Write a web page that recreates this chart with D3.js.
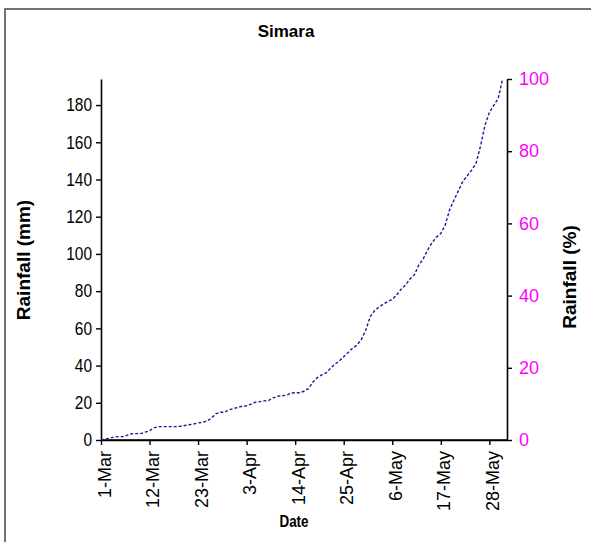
<!DOCTYPE html>
<html>
<head>
<meta charset="utf-8">
<script src="https://cdn.jsdelivr.net/npm/d3@7"></script>
<style>
  html, body { margin: 0; padding: 0; background: #fff; }
  svg { display: block; font-family: "Liberation Sans", Arial, sans-serif; }
</style>
</head>
<body>
<svg id="chart" width="591" height="542"></svg>
<script>
// ---- data ----
const title = "Simara";
const startDate = "2000-03-01";
// cumulative daily rainfall (mm), 1-Mar .. 31-May
const cumulativeRain = [
  0, 0.5, 1.0, 1.6, 1.8, 1.8, 2.6, 3.4, 3.4, 3.4,
  4.2, 5.0, 6.5, 7.2, 7.2, 7.2, 7.2, 7.2, 7.4, 7.8,
  8.2, 8.6, 9.2, 9.5, 10.2, 11.7, 14.0, 14.9, 14.9, 16.2,
  16.9, 17.5, 18.2, 18.4, 19.3, 20.3, 20.6, 21.0, 21.3, 22.6,
  23.5, 23.8, 24.0, 25.2, 25.4, 25.4, 26.2, 27.6, 31.0, 33.5,
  35.0, 36.0, 38.5, 40.7, 42.5, 44.8, 47.0, 49.3, 51.0, 54.0,
  59.0, 66.3, 69.5, 71.5, 73.0, 74.5, 75.5, 78.0, 81.0, 83.3,
  86.5, 88.7, 94.0, 97.3, 102.0, 106.0, 109.0, 111.0, 115.5, 123.7,
  129.0, 134.0, 139.0, 142.0, 145.0, 148.8, 158.0, 169.0, 176.0, 179.8,
  183.5, 194.0
];
const totalRain = 194;
const leftTicks = [0, 20, 40, 60, 80, 100, 120, 140, 160, 180];
const rightTicks = [0, 20, 40, 60, 80, 100];
const xTickLabels = ["1-Mar", "12-Mar", "23-Mar", "3-Apr", "14-Apr", "25-Apr", "6-May", "17-May", "28-May"];
const xAxisEnd = "2000-06-01";

// ---- layout ----
const svg = d3.select("#chart");
const mLeft = 101, mRight = 507, mTop = 79, mBottom = 440;

const parse = d3.timeParse("%Y-%m-%d");
const d0 = parse(startDate);
const dates = cumulativeRain.map((_, i) => d3.timeDay.offset(d0, i));
const parseLabel = d3.timeParse("%Y-%d-%b");
const xTickDates = xTickLabels.map(s => parseLabel("2000-" + s));

const x = d3.scaleTime().domain([d0, parse(xAxisEnd)]).range([mLeft, mRight]);
const yL = d3.scaleLinear().domain([0, totalRain]).range([mBottom, mTop]);
const yR = d3.scaleLinear().domain([0, 100]).range([mBottom, mTop]);

// outer border (only left/top visible)
svg.append("rect").attr("x", 5).attr("y", 9).attr("width", 700).attr("height", 700)
  .attr("fill", "none").attr("stroke", "#444").attr("stroke-width", 1.5);

// title
svg.append("text").attr("x", 286).attr("y", 37).attr("text-anchor", "middle")
  .attr("font-size", 17).attr("font-weight", "bold").text(title);

// left axis
const gL = svg.append("g").attr("transform", `translate(${mLeft},0)`)
  .call(d3.axisLeft(yL).tickValues(leftTicks).tickSize(5).tickSizeOuter(0).tickPadding(4));
gL.selectAll("text").attr("font-size", 18).attr("fill", "#000")
  .attr("font-family", "'Liberation Sans', Arial, sans-serif")
  .attr("x", 0).attr("text-anchor", "end")
  .attr("transform", "translate(-9,0) scale(0.86,1)");

// right axis
const gR = svg.append("g").attr("transform", `translate(${mRight},0)`)
  .call(d3.axisRight(yR).tickValues(rightTicks).tickSize(5).tickSizeOuter(0).tickPadding(7));
gR.selectAll("text").attr("font-size", 18).attr("fill", "#FF00FF")
  .attr("font-family", "'Liberation Sans', Arial, sans-serif");

// x axis
const gX = svg.append("g").attr("transform", `translate(0,${mBottom})`)
  .call(d3.axisBottom(x).tickValues(xTickDates).tickFormat((d, i) => xTickLabels[i])
    .tickSize(5).tickSizeOuter(0));
gX.selectAll("text").attr("font-size", 18).attr("fill", "#000")
  .attr("font-family", "'Liberation Sans', Arial, sans-serif")
  .attr("text-anchor", "end").attr("dy", null).attr("y", null)
  .attr("dominant-baseline", "central")
  .attr("transform", "translate(3,11) rotate(-90)");

[gL, gR, gX].forEach(g => {
  g.select(".domain").attr("stroke", "#000").attr("stroke-width", 1.6);
  g.selectAll(".tick line").attr("stroke", "#000").attr("stroke-width", 1.4);
});
svg.append("line").attr("x1", mLeft).attr("x2", mRight).attr("y1", mBottom).attr("y2", mBottom)
  .attr("stroke", "#000").attr("stroke-width", 1.6);

// axis titles
svg.append("text").attr("transform", `translate(30,260) rotate(-90)`)
  .attr("text-anchor", "middle").attr("font-size", 19).attr("font-weight", "bold")
  .text("Rainfall (mm)");
svg.append("text").attr("transform", `translate(576,277) rotate(-90)`)
  .attr("text-anchor", "middle").attr("font-size", 19).attr("font-weight", "bold")
  .text("Rainfall (%)");
svg.append("text").attr("transform", `translate(294,527) scale(0.84,1)`)
  .attr("text-anchor", "middle").attr("font-size", 16).attr("font-weight", "bold")
  .text("Date");

// line
const line = d3.line().x((d, i) => x(dates[i])).y(d => yL(d));
svg.append("path").datum(cumulativeRain).attr("d", line)
  .attr("fill", "none").attr("stroke", "#1a1a9a").attr("stroke-width", 1.4)
  .attr("stroke-dasharray", "3,2");
</script>
</body>
</html>
